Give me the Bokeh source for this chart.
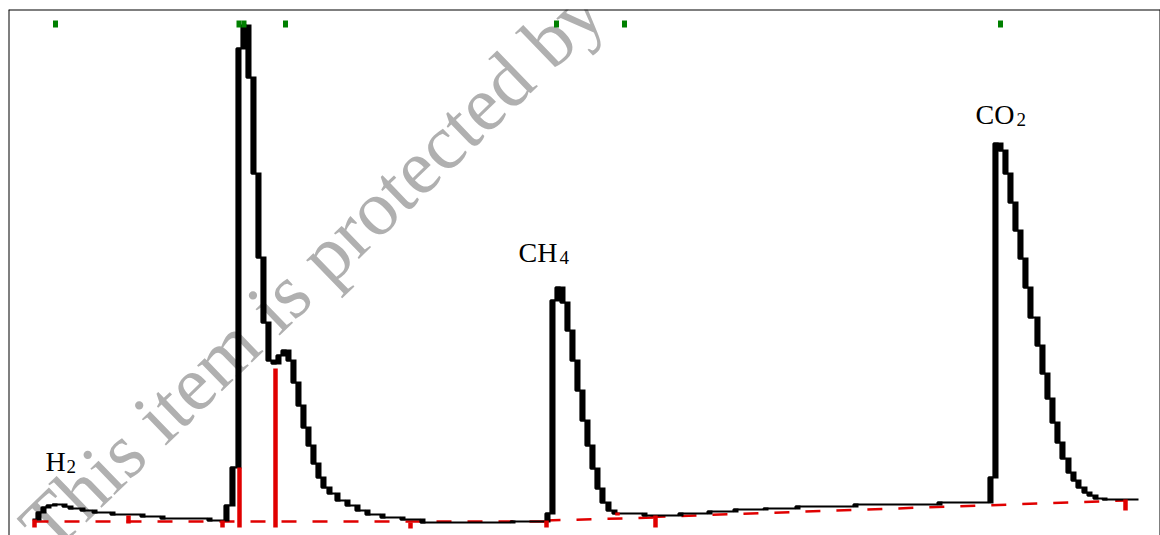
from bokeh.plotting import figure
from bokeh.models import Range1d, Span
from bokeh.core.properties import value
from bokeh.embed import file_html
from bokeh.resources import INLINE

# ---- detector trace: step breakpoints (time, signal) ----
trace_time = [24, 28, 33, 38, 44, 54, 60, 72, 84, 102, 132, 152, 199,
              216, 222, 228, 233, 238, 243, 248, 253, 258, 263, 268, 273, 278,
              283, 288, 293, 298, 303, 308, 313, 319, 327, 337, 347, 357, 372,
              392, 412, 502,
              537, 542, 547, 552, 557, 562, 567, 572, 577, 582, 587, 592, 598,
              604, 634, 670, 699, 725, 755, 787, 845, 929,
              980, 985, 990, 995, 1000, 1005, 1010, 1015, 1020, 1027, 1032,
              1037, 1042, 1047, 1052, 1058, 1063, 1068, 1074, 1079, 1085, 1094]
trace_signal = [16, 23, 28, 30, 31, 29, 27, 25, 23, 21, 19, 17, 15,
                30, 68, 487, 510, 458, 362, 278, 213, 175, 172, 180, 185, 175,
                153, 130, 108, 90, 72, 58, 48, 42, 35, 30, 25, 21, 18,
                16, 13, 14,
                22, 235, 248, 233, 205, 175, 145, 115, 90, 67, 47, 33, 25,
                22, 20, 22, 24, 26, 27, 29, 31, 33,
                58, 392, 385, 362, 333, 305, 277, 248, 218, 190, 162,
                137, 113, 93, 77, 63, 55, 48, 43, 40, 37, 36]
trace_end = 1130

# ---- integration markers (time, top, bottom) ----
mark_time = [26, 120, 214, 231, 267, 402, 538, 609, 647, 1117]
mark_top = [16, 20, 15, 68, 167, 13, 15, 23, 20, 36]
mark_bottom = [8, 12, 8, 8, 8, 7, 8, 20, 8, 25]

# ---- baseline segments ----
base_t0 = [25, 537, 642]
base_s0 = [14, 15, 18.5]
base_t1 = [537, 647, 1117]
base_s1 = [14, 18, 35]

# ---- apex markers ----
apex_time = [47, 230.5, 235.5, 277, 548, 616, 992]

# ---- peak labels ----
label_main = ["H", "CH", "CO"]
label_sub = ["2", "4", "2"]
label_time = [37, 510, 967]
label_signal = [74, 283, 421]
label_sub_offset = [21, 41, 41]

watermark = "This item is protected by copyright"

p = figure(width=1160, height=535, x_range=Range1d(0, 1152), y_range=Range1d(0, 526),
           x_axis_type=None, y_axis_type=None,
           min_border_left=8, min_border_top=9, min_border_right=0, min_border_bottom=0,
           toolbar_location=None, output_backend="svg")
p.grid.visible = False
p.outline_line_color = None
p.background_fill_color = "white"
p.border_fill_color = "white"

# frame (left, right, top)
for loc, dim in [(0, "height"), (1152, "height"), (526, "width")]:
    p.add_layout(Span(location=loc, dimension=dim, line_color="black", line_width=2))

# watermark
p.text(x=[24], y=[-2], text=[watermark], angle=44, angle_units="deg",
       text_font=value("Liberation Serif"), text_font_size="78px",
       text_color="#b0b0b0", text_baseline="alphabetic", text_align="left")

# baseline
p.segment(x0=base_t0, y0=base_s0, x1=base_t1, y1=base_s1,
          line_color="#e00000", line_width=2.5, line_dash="15 16")

# trace: horizontal steps
xs = trace_time + [trace_end]
ys = trace_signal + [trace_signal[-1]]
p.step(xs, ys, mode="after", line_color="black", line_width=2.2)

# trace: risers
left, right, bottom, top = [], [], [], []
for k in range(1, len(trace_time)):
    a, b = trace_signal[k - 1], trace_signal[k]
    left.append(trace_time[k])
    right.append(trace_time[k] + 5)
    bottom.append(min(a, b) - 1)
    top.append(max(a, b) + 1)
p.quad(left=left, right=right, bottom=bottom, top=top,
       fill_color="black", line_color=None)

# integration markers
p.vbar(x=mark_time, width=4.5, top=mark_top, bottom=mark_bottom,
       fill_color="#e00000", line_color=None)

# apex markers
p.rect(x=apex_time, y=511.5, width=5, height=7, fill_color="#008000", line_color=None)

# labels
p.text(x=label_time, y=label_signal, text=label_main,
       text_font=value("Liberation Serif"), text_font_size="28px",
       text_color="black", text_baseline="alphabetic")
p.text(x=label_time, y=label_signal, text=label_sub, x_offset=label_sub_offset, y_offset=5,
       text_font=value("Liberation Serif"), text_font_size="19px",
       text_color="black", text_baseline="alphabetic")

open("out.html", "w").write(file_html(p, INLINE))
